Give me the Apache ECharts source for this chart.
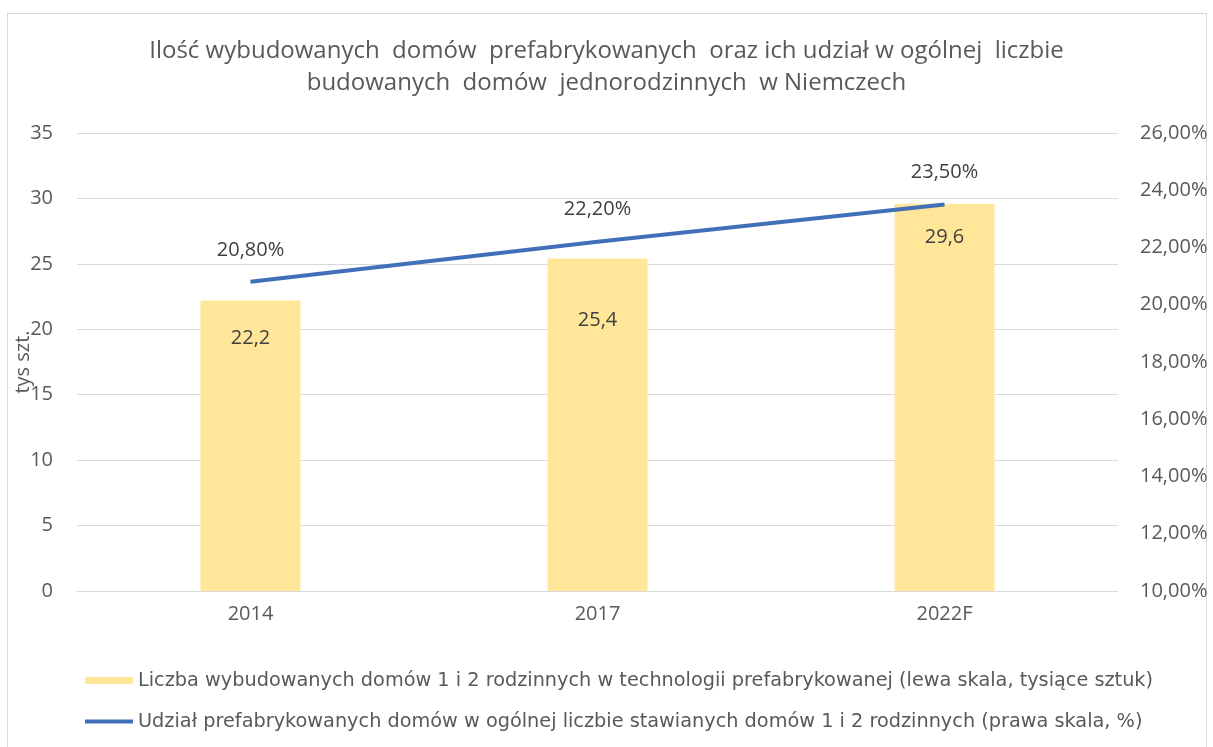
<!DOCTYPE html>
<html>
<head>
<meta charset="utf-8">
<script src="https://cdn.jsdelivr.net/npm/echarts@6/dist/echarts.min.js"></script>
<style>
html,body{margin:0;padding:0;background:#fff;}
#frame{position:absolute;left:7px;top:13px;width:1200px;height:760px;border:1px solid #d9d9d9;box-sizing:border-box;}
#chart{position:absolute;left:0;top:0;width:1213px;height:747px;}
</style>
</head>
<body>
<div id="frame"></div>
<div id="chart"></div>
<script>
const categories = ['2014', '2017', '2022F'];
const houseCounts = [22.2, 25.4, 29.6];
const prefabShare = [20.8, 22.2, 23.5];
const leftTicks = [0, 5, 10, 15, 20, 25, 30, 35];
const rightTicks = [10, 12, 14, 16, 18, 20, 22, 24, 26];
const titleText = 'Ilość wybudowanych  domów  prefabrykowanych  oraz ich udział w ogólnej  liczbie\nbudowanych  domów  jednorodzinnych  w Niemczech';
const barName = 'Liczba wybudowanych domów 1 i 2 rodzinnych w technologii prefabrykowanej (lewa skala, tysiące sztuk)';
const lineName = 'Udział prefabrykowanych domów w ogólnej liczbie stawianych domów 1 i 2 rodzinnych (prawa skala, %)';
const leftAxisName = 'tys szt.';

const FONT = '"Open Sans", sans-serif';
const LEGEND_FONT = '"DejaVu Sans", sans-serif';
const GRAY = '#595959';
const BLUE = '#4170B8';
const fmtComma = (v, d) => v.toFixed(d).replace('.', ',');
const barLabelShift = [28, 52, 24];

const chart = echarts.init(document.getElementById('chart'));
chart.setOption({
  animation: false,
  textStyle: { fontFamily: FONT },
  title: {
    text: titleText,
    left: 'center',
    top: 30,
    textStyle: { fontFamily: FONT, fontSize: 24, fontWeight: 'normal', color: GRAY, lineHeight: 32 }
  },
  legend: [
    {
      data: [barName], left: 80, top: 666, orient: 'vertical',
      icon: 'rect', itemWidth: 48, itemHeight: 7, itemGap: 10,
      textStyle: { fontFamily: LEGEND_FONT, fontSize: 19.3, color: GRAY }
    },
    {
      data: [{ name: lineName, itemStyle: { color: BLUE } }], left: 80, top: 707, orient: 'vertical',
      icon: 'rect', itemWidth: 48, itemHeight: 4,
      textStyle: { fontFamily: LEGEND_FONT, fontSize: 19.3, color: GRAY }
    }
  ],
  grid: { left: 77, right: 95, top: 133, bottom: 156, containLabel: false, outerBoundsMode: 'none' },
  xAxis: {
    type: 'category',
    data: categories,
    axisLine: { show: true, lineStyle: { color: '#d9d9d9' } },
    axisTick: { show: false },
    axisLabel: { color: GRAY, fontSize: 20, fontFamily: FONT, margin: 13 }
  },
  yAxis: [
    {
      type: 'value', min: leftTicks[0], max: leftTicks[leftTicks.length - 1], interval: 5,
      name: leftAxisName, nameLocation: 'middle', nameRotate: 90, nameGap: 44,
      nameMoveOverlap: false,
      nameTextStyle: { color: GRAY, fontSize: 20, fontFamily: FONT },
      axisLine: { show: false }, axisTick: { show: false },
      axisLabel: { color: GRAY, fontSize: 20, fontFamily: FONT, margin: 24 },
      splitLine: { lineStyle: { color: '#d9d9d9', width: 1 } }
    },
    {
      type: 'value', min: rightTicks[0], max: rightTicks[rightTicks.length - 1], interval: 2,
      axisLine: { show: false }, axisTick: { show: false },
      axisLabel: { color: GRAY, fontSize: 20, fontFamily: FONT, margin: 22, formatter: v => fmtComma(v, 2) + '%' },
      splitLine: { show: false }
    }
  ],
  series: [
    {
      name: barName,
      type: 'bar',
      yAxisIndex: 0,
      barWidth: 100,
      itemStyle: { color: '#FFE699' },
      data: houseCounts.map((v, i) => ({
        value: v,
        label: { distance: barLabelShift[i] }
      })),
      label: {
        show: true, position: 'insideTop', color: '#404040', fontSize: 20, fontFamily: FONT,
        formatter: p => fmtComma(p.value, 1)
      }
    },
    {
      name: lineName,
      type: 'line',
      yAxisIndex: 1,
      data: prefabShare,
      symbol: 'circle',
      symbolSize: 0.1,
      showSymbol: true,
      lineStyle: { color: BLUE, width: 4 },
      itemStyle: { color: BLUE },
      label: {
        show: true, position: 'top', distance: 22, color: '#404040', fontSize: 20, fontFamily: FONT,
        formatter: p => fmtComma(p.value, 2) + '%'
      }
    }
  ]
});
</script>
</body>
</html>
